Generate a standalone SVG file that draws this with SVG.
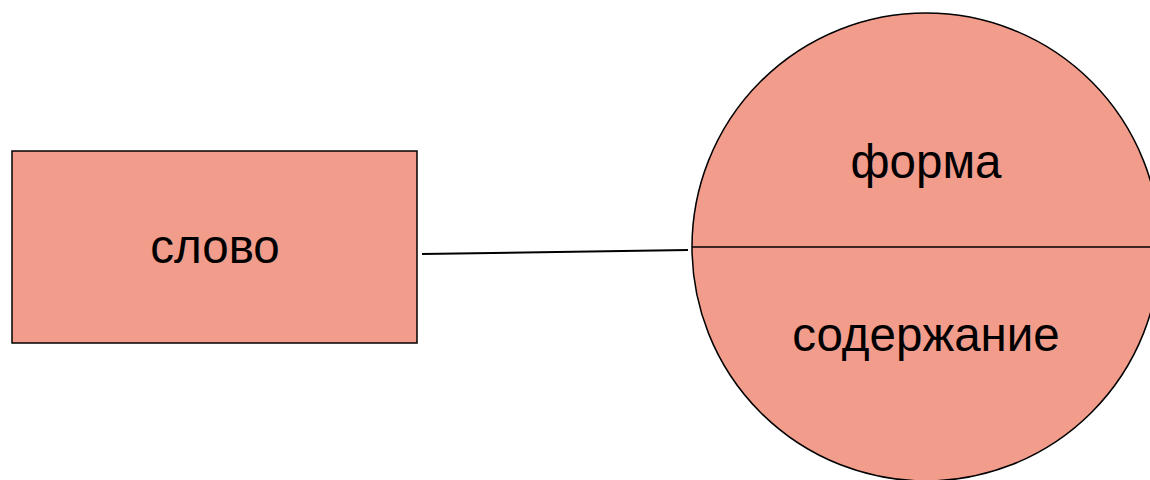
<svg xmlns="http://www.w3.org/2000/svg" width="1150" height="480" viewBox="0 0 1150 480">
<style>
.shape{fill:#F29C8C;stroke:#000;stroke-width:1.5}
.lbl{font-family:"Liberation Sans",Arial,sans-serif;font-size:47.5px;fill:#000;text-anchor:middle}
.conn{stroke:#000;stroke-width:2;fill:none}
</style>
<rect width="1150" height="480" fill="#fff"/>
<g id="node-slovo">
<rect class="shape" x="12" y="151" width="405" height="192"/>
<text class="lbl" x="215" y="263">слово</text>
</g>
<g id="node-circle">
<circle class="shape" cx="926" cy="247" r="234"/>
<line x1="692" y1="247" x2="1160" y2="247" stroke="#000" stroke-width="1.5"/>
<text class="lbl" x="926" y="178">форма</text>
<text class="lbl" x="926" y="351">содержание</text>
</g>
<g id="connectors">
<line class="conn" x1="422" y1="254" x2="688" y2="250"/>
</g>
</svg>
